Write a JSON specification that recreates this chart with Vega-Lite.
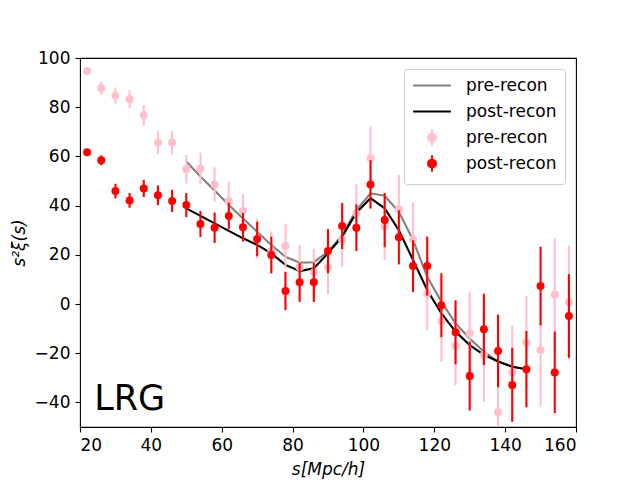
{
  "$schema": "https://vega.github.io/schema/vega-lite/v6.json",
  "width": 496,
  "height": 369,
  "autosize": {"type": "none"},
  "padding": {"left": 80, "top": 58, "right": 64, "bottom": 53},
  "config": {
    "font": "DejaVu Sans",
    "view": {"stroke": "black", "strokeWidth": 1.1}
  },
  "datasets": {
    "model": [
      {"s": 50, "xi": 57.9, "key": "line pre"}, {"s": 54, "xi": 51.8, "key": "line pre"},
      {"s": 58, "xi": 46.1, "key": "line pre"}, {"s": 62, "xi": 40.2, "key": "line pre"},
      {"s": 66, "xi": 34.8, "key": "line pre"}, {"s": 70, "xi": 29.4, "key": "line pre"},
      {"s": 74, "xi": 24.0, "key": "line pre"}, {"s": 78, "xi": 19.2, "key": "line pre"},
      {"s": 82, "xi": 16.8, "key": "line pre"}, {"s": 86, "xi": 17.0, "key": "line pre"},
      {"s": 90, "xi": 21.3, "key": "line pre"}, {"s": 94, "xi": 28.0, "key": "line pre"},
      {"s": 98, "xi": 38.2, "key": "line pre"}, {"s": 102, "xi": 45.0, "key": "line pre"},
      {"s": 106, "xi": 44.0, "key": "line pre"}, {"s": 110, "xi": 37.5, "key": "line pre"},
      {"s": 114, "xi": 26.0, "key": "line pre"}, {"s": 118, "xi": 11.1, "key": "line pre"},
      {"s": 122, "xi": 0.9, "key": "line pre"}, {"s": 126, "xi": -7.9, "key": "line pre"},
      {"s": 130, "xi": -14.0, "key": "line pre"}, {"s": 134, "xi": -19.4, "key": "line pre"},
      {"s": 138, "xi": -23.4, "key": "line pre"}, {"s": 142, "xi": -25.5, "key": "line pre"},
      {"s": 146, "xi": -26.5, "key": "line pre"},
      {"s": 50, "xi": 38.9, "key": "line post"}, {"s": 54, "xi": 35.8, "key": "line post"},
      {"s": 58, "xi": 32.8, "key": "line post"}, {"s": 62, "xi": 29.7, "key": "line post"},
      {"s": 66, "xi": 26.7, "key": "line post"}, {"s": 70, "xi": 24.0, "key": "line post"},
      {"s": 74, "xi": 20.6, "key": "line post"}, {"s": 78, "xi": 15.9, "key": "line post"},
      {"s": 82, "xi": 13.4, "key": "line post"}, {"s": 86, "xi": 14.5, "key": "line post"},
      {"s": 90, "xi": 20.6, "key": "line post"}, {"s": 94, "xi": 27.4, "key": "line post"},
      {"s": 98, "xi": 37.1, "key": "line post"}, {"s": 102, "xi": 43.0, "key": "line post"},
      {"s": 106, "xi": 38.9, "key": "line post"}, {"s": 110, "xi": 30.0, "key": "line post"},
      {"s": 114, "xi": 17.9, "key": "line post"}, {"s": 118, "xi": 5.7, "key": "line post"},
      {"s": 122, "xi": -3.8, "key": "line post"}, {"s": 126, "xi": -11.2, "key": "line post"},
      {"s": 130, "xi": -16.7, "key": "line post"}, {"s": 134, "xi": -20.7, "key": "line post"},
      {"s": 138, "xi": -23.4, "key": "line post"}, {"s": 142, "xi": -25.5, "key": "line post"},
      {"s": 146, "xi": -26.5, "key": "line post"}
    ],
    "meas": [
      {"s": 22, "xi": 94.7, "err": 1.5, "key": "pt pre"}, {"s": 26, "xi": 87.7, "err": 2.6, "key": "pt pre"},
      {"s": 30, "xi": 84.7, "err": 3.3, "key": "pt pre"}, {"s": 34, "xi": 83.2, "err": 3.7, "key": "pt pre"},
      {"s": 38, "xi": 76.7, "err": 4.2, "key": "pt pre"}, {"s": 42, "xi": 65.7, "err": 4.7, "key": "pt pre"},
      {"s": 46, "xi": 65.6, "err": 4.7, "key": "pt pre"}, {"s": 50, "xi": 54.8, "err": 5.8, "key": "pt pre"},
      {"s": 54, "xi": 55.1, "err": 6.4, "key": "pt pre"}, {"s": 58, "xi": 48.6, "err": 7.0, "key": "pt pre"},
      {"s": 62, "xi": 41.9, "err": 7.7, "key": "pt pre"}, {"s": 66, "xi": 37.8, "err": 7.1, "key": "pt pre"},
      {"s": 70, "xi": 26.5, "err": 8.0, "key": "pt pre"}, {"s": 74, "xi": 21.5, "err": 8.0, "key": "pt pre"},
      {"s": 78, "xi": 23.6, "err": 9.0, "key": "pt pre"}, {"s": 82, "xi": 14.9, "err": 9.0, "key": "pt pre"},
      {"s": 86, "xi": 12.9, "err": 9.5, "key": "pt pre"}, {"s": 90, "xi": 14.9, "err": 11.0, "key": "pt pre"},
      {"s": 94, "xi": 26.0, "err": 11.0, "key": "pt pre"}, {"s": 98, "xi": 36.9, "err": 11.8, "key": "pt pre"},
      {"s": 102, "xi": 59.2, "err": 13.0, "key": "pt pre"}, {"s": 106, "xi": 31.4, "err": 13.5, "key": "pt pre"},
      {"s": 110, "xi": 38.5, "err": 14.0, "key": "pt pre"}, {"s": 114, "xi": 26.3, "err": 15.0, "key": "pt pre"},
      {"s": 118, "xi": 4.3, "err": 15.0, "key": "pt pre"}, {"s": 122, "xi": -7.0, "err": 16.6, "key": "pt pre"},
      {"s": 126, "xi": -17.0, "err": 16.0, "key": "pt pre"}, {"s": 130, "xi": -11.9, "err": 17.0, "key": "pt pre"},
      {"s": 134, "xi": -20.7, "err": 19.0, "key": "pt pre"}, {"s": 138, "xi": -44.0, "err": 18.0, "key": "pt pre"},
      {"s": 142, "xi": -27.8, "err": 19.0, "key": "pt pre"}, {"s": 146, "xi": -15.6, "err": 19.0, "key": "pt pre"},
      {"s": 150, "xi": -18.7, "err": 23.0, "key": "pt pre"}, {"s": 154, "xi": 3.9, "err": 23.0, "key": "pt pre"},
      {"s": 158, "xi": 0.7, "err": 23.0, "key": "pt pre"},
      {"s": 22, "xi": 61.7, "err": 1.3, "key": "pt post"}, {"s": 26, "xi": 58.4, "err": 2.0, "key": "pt post"},
      {"s": 30, "xi": 45.9, "err": 3.0, "key": "pt post"}, {"s": 34, "xi": 42.1, "err": 3.0, "key": "pt post"},
      {"s": 38, "xi": 47.0, "err": 3.5, "key": "pt post"}, {"s": 42, "xi": 44.2, "err": 4.0, "key": "pt post"},
      {"s": 46, "xi": 41.9, "err": 4.5, "key": "pt post"}, {"s": 50, "xi": 40.2, "err": 4.9, "key": "pt post"},
      {"s": 54, "xi": 32.5, "err": 5.3, "key": "pt post"}, {"s": 58, "xi": 31.0, "err": 6.2, "key": "pt post"},
      {"s": 62, "xi": 35.8, "err": 5.4, "key": "pt post"}, {"s": 66, "xi": 31.2, "err": 5.8, "key": "pt post"},
      {"s": 70, "xi": 26.4, "err": 7.0, "key": "pt post"}, {"s": 74, "xi": 19.9, "err": 7.5, "key": "pt post"},
      {"s": 78, "xi": 5.3, "err": 7.8, "key": "pt post"}, {"s": 82, "xi": 8.8, "err": 8.0, "key": "pt post"},
      {"s": 86, "xi": 8.8, "err": 8.0, "key": "pt post"}, {"s": 90, "xi": 21.5, "err": 9.0, "key": "pt post"},
      {"s": 94, "xi": 31.7, "err": 9.4, "key": "pt post"}, {"s": 98, "xi": 31.0, "err": 9.5, "key": "pt post"},
      {"s": 102, "xi": 48.6, "err": 9.8, "key": "pt post"}, {"s": 106, "xi": 34.1, "err": 11.0, "key": "pt post"},
      {"s": 110, "xi": 27.1, "err": 11.0, "key": "pt post"}, {"s": 114, "xi": 15.4, "err": 10.5, "key": "pt post"},
      {"s": 118, "xi": 15.4, "err": 12.0, "key": "pt post"}, {"s": 122, "xi": -0.5, "err": 13.0, "key": "pt post"},
      {"s": 126, "xi": -11.5, "err": 13.0, "key": "pt post"}, {"s": 130, "xi": -29.3, "err": 14.0, "key": "pt post"},
      {"s": 134, "xi": -10.3, "err": 14.5, "key": "pt post"}, {"s": 138, "xi": -19.1, "err": 14.8, "key": "pt post"},
      {"s": 142, "xi": -32.9, "err": 15.0, "key": "pt post"}, {"s": 146, "xi": -26.5, "err": 15.5, "key": "pt post"},
      {"s": 150, "xi": 7.3, "err": 16.0, "key": "pt post"}, {"s": 154, "xi": -27.8, "err": 16.6, "key": "pt post"},
      {"s": 158, "xi": -4.9, "err": 17.0, "key": "pt post"}
    ],
    "label": [{"s": 24, "xi": -43, "text": "LRG"}]
  },
  "encoding": {
    "x": {
      "field": "s", "type": "quantitative",
      "scale": {"domain": [20, 160], "nice": false, "zero": false},
      "axis": {
        "values": [20, 40, 60, 80, 100, 120, 140, 160],
        "grid": false, "domain": false,
        "tickColor": "black", "tickSize": 5, "tickWidth": 1.1,
        "labelColor": "black", "labelFontSize": 17, "labelFont": "DejaVu Sans", "labelPadding": 5,
        "title": "s[Mpc/h]", "titlePadding": 8,
        "titleColor": "black", "titleFontSize": 17, "titleFont": "DejaVu Sans",
        "titleFontWeight": "normal", "titleFontStyle": "italic"
      }
    },
    "y": {
      "field": "xi", "type": "quantitative",
      "scale": {"domain": [-50, 100], "nice": false, "zero": false},
      "axis": {
        "values": [-40, -20, 0, 20, 40, 60, 80, 100],
        "labelExpr": "replace(datum.label, '-', '\u2212')",
        "grid": false, "domain": false,
        "tickColor": "black", "tickSize": 5, "tickWidth": 1.1,
        "labelColor": "black", "labelFontSize": 17, "labelFont": "DejaVu Sans", "labelPadding": 5,
        "title": "s\u00b2\u03be(s)", "titlePadding": 6,
        "titleColor": "black", "titleFontSize": 17, "titleFont": "DejaVu Sans",
        "titleFontWeight": "normal", "titleFontStyle": "italic"
      }
    }
  },
  "layer": [
    {
      "data": {"name": "model"},
      "mark": {"type": "line", "strokeWidth": 2.1},
      "encoding": {
        "color": {
          "field": "key", "type": "nominal",
          "scale": {"domain": ["line pre", "line post", "pt pre", "pt post"], "range": ["grey", "black", "pink", "red"]},
          "legend": {
            "orient": "none", "legendX": 324, "legendY": 11,
            "title": null, "padding": 8, "cornerRadius": 3,
            "strokeColor": "#cccccc", "fillColor": "white",
            "labelFont": "DejaVu Sans", "labelFontSize": 17, "labelColor": "black",
            "symbolSize": 225, "symbolStrokeWidth": 2, "symbolOffset": 11.5,
            "labelOffset": 25.5, "rowPadding": 1,
            "labelExpr": "indexof(datum.label, 'pre') >= 0 ? 'pre-recon' : 'post-recon'",
            "encode": {
              "symbols": {
                "update": {
                  "shape": {"signal": "indexof(datum.value, 'line') >= 0 ? 'M-2.53,-1.1M-2.53,1.1M-2.53,0H2.53' : 'M0,-1.1V1.1M0.53,0L0.49,0.203L0.375,0.375L0.203,0.49L0,0.53L-0.203,0.49L-0.375,0.375L-0.49,0.203L-0.53,0L-0.49,-0.203L-0.375,-0.375L-0.203,-0.49L0,-0.53L0.203,-0.49L0.375,-0.375L0.49,-0.203Z'"},
                  "fill": {"signal": "indexof(datum.value, 'line') >= 0 ? 'transparent' : scale('color', datum.value)"},
                  "stroke": {"signal": "scale('color', datum.value)"},
                  "strokeWidth": {"value": 2},
                  "size": {"value": 225},
                  "opacity": {"value": 1}
                }
              }
            }
          }
        }
      }
    },
    {
      "data": {"name": "meas"},
      "transform": [{"filter": "datum.key == 'pt pre'"}],
      "mark": {"type": "errorbar", "thickness": 2.1, "clip": true},
      "encoding": {"yError": {"field": "err"}, "color": {"field": "key", "type": "nominal"}}
    },
    {
      "data": {"name": "meas"},
      "transform": [{"filter": "datum.key == 'pt pre'"}],
      "mark": {"type": "point", "filled": true, "opacity": 1, "size": 64, "clip": true},
      "encoding": {"color": {"field": "key", "type": "nominal"}}
    },
    {
      "data": {"name": "meas"},
      "transform": [{"filter": "datum.key == 'pt post'"}],
      "mark": {"type": "errorbar", "thickness": 2.1, "clip": true},
      "encoding": {"yError": {"field": "err"}, "color": {"field": "key", "type": "nominal"}}
    },
    {
      "data": {"name": "meas"},
      "transform": [{"filter": "datum.key == 'pt post'"}],
      "mark": {"type": "point", "filled": true, "opacity": 1, "size": 64, "clip": true},
      "encoding": {"color": {"field": "key", "type": "nominal"}}
    },
    {
      "data": {"name": "label"},
      "mark": {"type": "text", "fontSize": 35, "font": "DejaVu Sans", "color": "black", "align": "left", "baseline": "alphabetic"},
      "encoding": {"text": {"field": "text"}}
    }
  ]
}
